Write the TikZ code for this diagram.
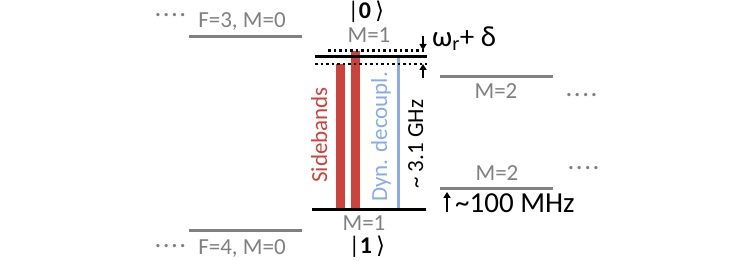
\documentclass[tikz,border=0pt]{standalone}
\usepackage{fontspec}
\setmainfont{Carlito}
\newfontfamily\symfont{DejaVu Sans}
\usetikzlibrary{arrows.meta,positioning,calc}
\definecolor{lvl}{RGB}{128,128,128}
\definecolor{sb}{RGB}{206,66,60}
\definecolor{dd}{RGB}{135,170,240}
\tikzset{
  level/.style={draw=lvl,line width=3pt},
  qlevel/.style={draw=black,line width=3pt},
  dotline/.style={draw=black,line width=2.5pt,dash pattern=on 2.5pt off 3pt},
  bar/.style={fill=sb},
  glbl/.style={text=lvl,font=\fontsize{23}{26}\selectfont,inner sep=0pt},
  ket/.style={font=\fontsize{24}{26}\selectfont,inner sep=0pt},
  vlbl/.style={rotate=90,anchor=base west,inner sep=0pt,
    font=\fontsize{23}{25}\selectfont},
  big/.style={font=\fontsize{29}{32}\selectfont,inner sep=0pt,anchor=base west},
  more/.style={text=lvl,font=\fontsize{23}{26}\selectfont,inner sep=0pt},
  arr/.style={-{Triangle[length=6pt,width=7pt]},line width=1.6pt},
}
\newcommand{\fourdots}{\textperiodcentered\kern2.5pt\textperiodcentered\kern2.5pt\textperiodcentered\kern2.5pt\textperiodcentered}
\newcommand{\ketof}[1]{\textbar\textbf{#1}\,{\symfont\fontsize{23}{24}\selectfont ⟩}}

\begin{document}
\begin{tikzpicture}[x=1pt,y=-1pt]
  \useasboundingbox (0,0) rectangle (749,261);
  % F=3 and F=4, M=0
  \draw[level] (189,37) -- (302,37);
  \draw[level] (189,231) -- (302,231);
  \node[glbl,anchor=base] (f3) at (242,28) {F=3, M=0};
  \node[glbl,anchor=base] (f4) at (242,255) {F=4, M=0};
  \node[more,anchor=east] (f3more) at (186,17) {\fourdots};
  \node[more,anchor=east] (f4more) at (186,248) {\fourdots};
  % drive lines
  \fill[bar] (336,64) rectangle (345,209);
  \fill[bar] (351,51) rectangle (360,209);
  \draw[dd,line width=3pt] (398,57) -- (398,209);
  % clock states
  \draw[dotline] (328,50.5) -- (424,50.5);
  \draw[dotline] (315,64) -- (427,64);
  \draw[qlevel] (315,57) -- (427,57);
  \draw[qlevel] (312,210) -- (426,210);
  \node[glbl,anchor=base] (m1up) at (369,43) {M=1};
  \node[ket,anchor=base] (k0) at (366,19) {\ketof{0}};
  \node[glbl,anchor=base] (m1dn) at (364,231) {M=1};
  \node[ket,anchor=base] (k1) at (367,254) {\ketof{1}};
  \node[vlbl,text=sb] (sbl) at (327,183) {Sidebands};
  \node[vlbl,text=dd] (ddl) at (387,202) {Dyn. decoupl.};
  \node[vlbl] (gap) at (423,189) {\textasciitilde\ 3.1 GHz};
  % detuning
  \coordinate (dtop) at (423,50);
  \coordinate (dbot) at (423,64);
  \draw[arr] ($(dtop)+(0,-14)$) -- (dtop);
  \draw[arr] ($(dbot)+(0,14)$) -- (dbot);
  \node[big] (det) at (432,47) {ω\textsubscript{r}+ δ};
  % M=2 neighbours
  \draw[level] (440,77) -- (553,77);
  \draw[level] (440,189) -- (553,189);
  \node[glbl,anchor=base] (m2up) at (496,99) {M=2};
  \node[glbl,anchor=base] (m2dn) at (497,181) {M=2};
  \node[more,anchor=west] (m2upmore) at (566,97) {\fourdots};
  \node[more,anchor=west] (m2dnmore) at (568,170) {\fourdots};
  \coordinate (zs) at (447,192);
  \draw[arr] ($(zs)+(0,20)$) -- (zs);
  \node[big] (zeeman) at (455,213) {\textasciitilde 100 MHz};
\end{tikzpicture}
\end{document}
